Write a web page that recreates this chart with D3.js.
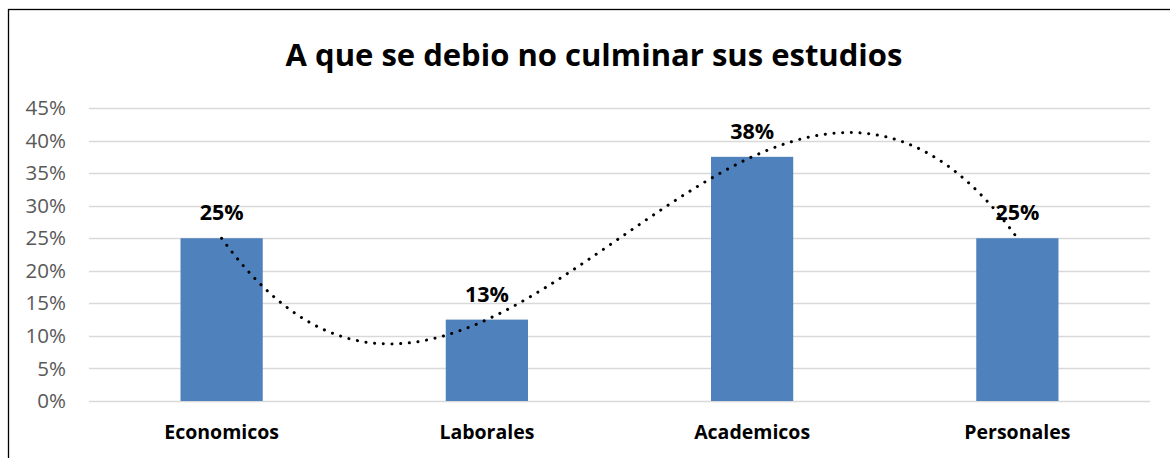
<!DOCTYPE html>
<html>
<head>
<meta charset="utf-8">
<script src="https://cdn.jsdelivr.net/npm/d3@7"></script>
<style>
  body { margin: 0; background: #fff; }
  svg { display: block; font-family: "Open Sans", sans-serif; }
</style>
</head>
<body>
<div id="chart"></div>
<script>
// Datos del gráfico
const categorias = ["Economicos", "Laborales", "Academicos", "Personales"];
const porcentajes = [0.25, 0.125, 0.375, 0.25];
const etiquetas = ["25%", "13%", "38%", "25%"];
const ticksY = [0, 0.05, 0.10, 0.15, 0.20, 0.25, 0.30, 0.35, 0.40, 0.45];
const titulo = "A que se debio no culminar sus estudios";

const width = 1170;
const height = 458;
const margin = { top: 108, right: 20, bottom: 57, left: 89 };
const plotW = 1150 - margin.left;
const plotH = 401 - margin.top;

const svg = d3.select("#chart")
    .append("svg")
    .attr("width", width)
    .attr("height", height);

// Borde del gráfico
svg.append("rect")
    .attr("x", 8.5)
    .attr("y", 9.5)
    .attr("width", 1200)
    .attr("height", 500)
    .attr("fill", "none")
    .attr("stroke", "#000")
    .attr("stroke-width", 1.3);

svg.append("text")
    .attr("x", 594)
    .attr("y", 66)
    .attr("text-anchor", "middle")
    .attr("font-size", "31px")
    .attr("font-weight", "bold")
    .attr("fill", "#000")
    .text(titulo);

const g = svg.append("g")
    .attr("transform", `translate(${margin.left}, ${margin.top})`);

// Escalas
const x = d3.scaleBand().domain(categorias).range([0, plotW]).paddingInner(0.69).paddingOuter(0.345);
const y = d3.scaleLinear().domain([0, 0.45]).range([plotH, 0]);

// Líneas de cuadrícula
g.append("g")
    .selectAll("line")
    .data(ticksY)
    .join("line")
    .attr("x1", 0)
    .attr("x2", plotW)
    .attr("y1", d => Math.round(y(d)) + 0.5)
    .attr("y2", d => Math.round(y(d)) + 0.5)
    .attr("stroke", "#d9d9d9")
    .attr("stroke-width", 1.5);

// Eje Y
const yAxis = d3.axisLeft(y).tickValues(ticksY).tickFormat(d3.format(".0%")).tickSize(0).tickPadding(23);
g.append("g")
    .call(yAxis)
    .call(s => s.select(".domain").remove())
    .selectAll("text")
    .attr("font-family", "'Open Sans', sans-serif")
    .attr("font-size", "20.5px")
    .attr("fill", "#595959");

// Barras
g.selectAll(".bar")
    .data(porcentajes)
    .join("rect")
    .attr("class", "bar")
    .attr("x", (d, i) => x(categorias[i]))
    .attr("width", x.bandwidth())
    .attr("y", d => y(d))
    .attr("height", d => y(0) - y(d))
    .attr("fill", "#4f81bd");

// Eje X
const xAxis = d3.axisBottom(x).tickSize(0).tickPadding(24);
g.append("g")
    .attr("transform", `translate(0, ${plotH})`)
    .call(xAxis)
    .call(s => s.select(".domain").remove())
    .selectAll("text")
    .attr("font-family", "'Open Sans', sans-serif")
    .attr("font-size", "19.5px")
    .attr("font-weight", "bold")
    .attr("fill", "#000");

// Línea de tendencia polinómica (orden 3) calculada de los datos
function polinomio(t) {
    const n = porcentajes.length;
    let s = 0;
    for (let i = 0; i < n; i++) {
        let l = 1;
        for (let j = 0; j < n; j++) {
            if (j !== i) l *= (t - (j + 1)) / ((i + 1) - (j + 1));
        }
        s += porcentajes[i] * l;
    }
    return s;
}
const paso = x.step();
const x0 = x(categorias[0]) + x.bandwidth() / 2;
const tendencia = d3.range(1, 4.0001, 0.02).map(t => ({ t, v: polinomio(t) }));
g.append("path")
    .datum(tendencia)
    .attr("fill", "none")
    .attr("stroke", "#000")
    .attr("stroke-width", 3)
    .attr("stroke-linecap", "round")
    .attr("stroke-dasharray", "0.1 8.6")
    .attr("d", d3.line()
        .x(d => x0 + (d.t - 1) * paso)
        .y(d => y(d.v)));

// Etiquetas de datos
g.selectAll(".label")
    .data(porcentajes)
    .join("text")
    .attr("class", "label")
    .attr("x", (d, i) => x(categorias[i]) + x.bandwidth() / 2)
    .attr("y", d => y(d) - 18)
    .attr("text-anchor", "middle")
    .attr("font-size", "21.5px")
    .attr("font-weight", "bold")
    .attr("fill", "#000")
    .text((d, i) => etiquetas[i]);
</script>
</body>
</html>
